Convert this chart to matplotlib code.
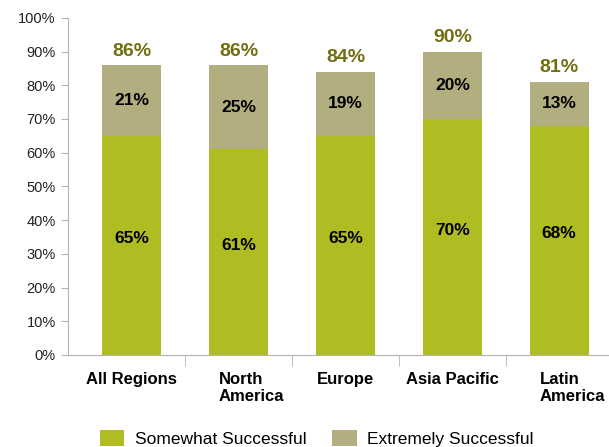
import matplotlib.pyplot as plt
import matplotlib.transforms as mtransforms
import numpy as np

regions = ['All Regions', 'North\nAmerica', 'Europe', 'Asia Pacific', 'Latin\nAmerica']
somewhat = [65, 61, 65, 70, 68]
extremely = [21, 25, 19, 20, 13]
totals = [86, 86, 84, 90, 81]

green = '#afbc22'
khaki = '#b2ae80'
total_color = '#726f12'
axis_gray = '#b4b4b4'

plt.rcParams['font.family'] = ['Liberation Sans', 'DejaVu Sans']

fig = plt.figure(figsize=(6.09, 4.47), dpi=100)
ax = fig.add_axes([0.112, 0.206, 0.887, 0.754])

x = np.arange(len(regions))
width = 0.55
ax.bar(x, somewhat, width, color=green, label='Somewhat Successful')
ax.bar(x, extremely, width, bottom=somewhat, color=khaki, label='Extremely Successful')

# value labels inside the segments and totals on top
for i in range(len(regions)):
    ax.text(x[i], somewhat[i] / 2 + 2, f'{somewhat[i]}%', ha='center', va='center',
            fontsize=12.5, fontweight='bold', color='black')
    ax.text(x[i], somewhat[i] + extremely[i] / 2, f'{extremely[i]}%', ha='center',
            va='center', fontsize=12.5, fontweight='bold', color='black')
    ax.annotate(f'{totals[i]}%', (x[i], somewhat[i] + extremely[i]),
                xytext=(0, 4), textcoords='offset points', ha='center', va='bottom',
                fontsize=14, fontweight='bold', color=total_color)

ax.set_xlim(-0.595, 4.46)
ax.set_ylim(0, 100)
ax.set_yticks(range(0, 101, 10))
ax.set_yticklabels([f'{v}%' for v in range(0, 101, 10)], fontsize=10.5, color='#222222')

ax.set_xticks(x)
ax.set_xticklabels(regions, fontsize=12, fontweight='bold', multialignment='left')
ax.set_xticks(x[:-1] + 0.5, minor=True)
ax.tick_params(axis='x', which='major', length=0, pad=12)
ax.tick_params(axis='x', which='minor', length=8, color=axis_gray)
ax.tick_params(axis='y', length=5, color=axis_gray, pad=4)

# two-line labels sit a little to the right
shift = mtransforms.ScaledTranslation(13 / 100, 0, fig.dpi_scale_trans)
for lab in ax.get_xticklabels():
    if '\n' in lab.get_text():
        lab.set_transform(lab.get_transform() + shift)

for side in ['top', 'right']:
    ax.spines[side].set_visible(False)
for side in ['left', 'bottom']:
    ax.spines[side].set_color(axis_gray)

fig.legend(loc='lower center', ncol=2, bbox_to_anchor=(0.52, -0.035), frameon=False,
           fontsize=12.5, handlelength=1.4, handleheight=1.1, columnspacing=1.5,
           handletextpad=0.6)

plt.savefig('out.png', dpi=100)
